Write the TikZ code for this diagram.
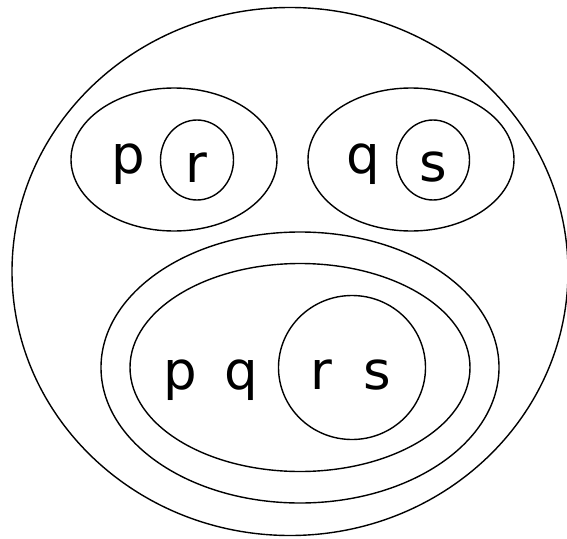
\documentclass[tikz,border=0pt]{standalone}
\usepackage{fontspec}
\setmainfont{DejaVu Sans}
\begin{document}
\begin{tikzpicture}[x=1pt,y=-1pt,
  ring/.style={draw=black,line width=1.4pt},
  lbl/.style={anchor=base,inner sep=0pt,font=\fontsize{53}{60}\selectfont}]
\useasboundingbox (0,0) rectangle (567,538);
\coordinate (outer) at (290,271.5);
\coordinate (tl) at (174,159.5);
\coordinate (tlc) at (197,160);
\coordinate (tr) at (411,159.5);
\coordinate (trc) at (433,160);
\coordinate (bo) at (300,367.5);
\coordinate (bi) at (300,367.5);
\coordinate (bc) at (352,367.5);
\draw[ring] (outer) ellipse [x radius=278, y radius=264];
\draw[ring] (tl) ellipse [x radius=103, y radius=71.5];
\draw[ring] (tlc) ellipse [x radius=36.5, y radius=40];
\draw[ring] (tr) ellipse [x radius=103, y radius=71.5];
\draw[ring] (trc) ellipse [x radius=36.5, y radius=40];
\draw[ring] (bo) ellipse [x radius=199, y radius=135.5];
\draw[ring] (bi) ellipse [x radius=170, y radius=104];
\draw[ring] (bc) ellipse [x radius=73.5, y radius=72];
\node[lbl] (p1) at (128,173) {p};
\node[lbl] (r1) at (196,182) {r};
\node[lbl] (q1) at (363,173) {q};
\node[lbl] (s1) at (433.5,181) {s};
\node[lbl] (p2) at (180,389) {p};
\node[lbl] (q2) at (241,389) {q};
\node[lbl] (r2) at (321,389) {r};
\node[lbl] (s2) at (377.5,389) {s};
\end{tikzpicture}
\end{document}
